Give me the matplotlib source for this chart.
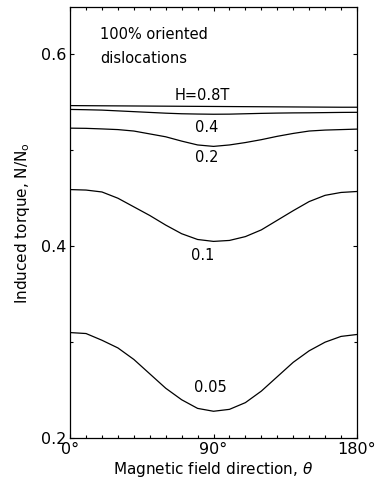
import matplotlib
matplotlib.use("Agg")
import matplotlib.pyplot as plt
import matplotlib.ticker as mticker

plt.rcParams["font.family"] = ["DejaVu Sans"]

# 磁場方向 (deg) 與各磁場強度下的誘導力矩 N/N0 (讀圖估計)
theta = [0, 10, 20, 30, 40, 50, 60, 70, 80, 90,
         100, 110, 120, 130, 140, 150, 160, 170, 180]
n_h08 = [0.5465, 0.5464, 0.5463, 0.5462, 0.5461, 0.5460, 0.5459, 0.5458,
         0.5457, 0.5456, 0.5455, 0.5454, 0.5453, 0.5452, 0.5451, 0.5450,
         0.5449, 0.5448, 0.5448]
n_h04 = [0.5425, 0.5422, 0.5418, 0.5410, 0.5402, 0.5394, 0.5386, 0.5380,
         0.5377, 0.5375, 0.5376, 0.5380, 0.5384, 0.5387, 0.5389, 0.5390,
         0.5392, 0.5394, 0.5395]
n_h02 = [0.523, 0.5228, 0.5222, 0.5215, 0.520, 0.517, 0.514, 0.5095,
         0.5055, 0.504, 0.5055, 0.508, 0.511, 0.5145, 0.5175, 0.520,
         0.521, 0.5215, 0.522]
n_h01 = [0.459, 0.4585, 0.4565, 0.450, 0.441, 0.432, 0.422, 0.413,
         0.407, 0.405, 0.406, 0.410, 0.417, 0.427, 0.437, 0.4465,
         0.453, 0.456, 0.457]
n_h005 = [0.310, 0.309, 0.302, 0.294, 0.282, 0.267, 0.252, 0.240,
          0.231, 0.228, 0.230, 0.237, 0.249, 0.264, 0.279, 0.291,
          0.300, 0.306, 0.308]

curves = [n_h08, n_h04, n_h02, n_h01, n_h005]
labels = ["H=0.8T", "0.4", "0.2", "0.1", "0.05"]
label_pos = [(83, 0.557), (86, 0.524), (86, 0.492), (83, 0.390), (88, 0.253)]

fig = plt.figure(figsize=(3.83, 4.82), dpi=100)
ax = fig.add_axes([0.183, 0.091, 0.749, 0.894])

for n in curves:
    ax.plot(theta, n, color="black", linewidth=0.9)
for lab, (x, y) in zip(labels, label_pos):
    ax.text(x, y, lab, fontsize=10.5, ha="center", va="center")

ax.text(0.105, 0.937, "100% oriented", transform=ax.transAxes, fontsize=10.5,
        va="center", ha="left")
ax.text(0.105, 0.882, "dislocations", transform=ax.transAxes, fontsize=10.5,
        va="center", ha="left")

ax.set_xlim(0, 180)
ax.set_ylim(0.2, 0.649)
ax.set_xticks([0, 90, 180])
ax.set_xticklabels(["0°", "90°", "180°"])
ax.xaxis.set_minor_locator(mticker.MultipleLocator(10))
ax.set_yticks([0.2, 0.4, 0.6])
ax.set_yticklabels(["0.2", "0.4", "0.6"])
ax.yaxis.set_minor_locator(mticker.MultipleLocator(0.1))
ax.tick_params(which="both", direction="in", top=True, right=True,
               labelsize=11.5, pad=3)
ax.tick_params(which="major", length=3, width=0.8)
ax.tick_params(which="minor", length=2, width=0.8)
for sp in ax.spines.values():
    sp.set_linewidth(0.9)

ax.set_xlabel(r"Magnetic field direction, $\theta$", fontsize=11, labelpad=2)
ax.set_ylabel(r"Induced torque, N/N$_{\rm o}$", fontsize=11, labelpad=6)

plt.savefig("out.png", dpi=100)
